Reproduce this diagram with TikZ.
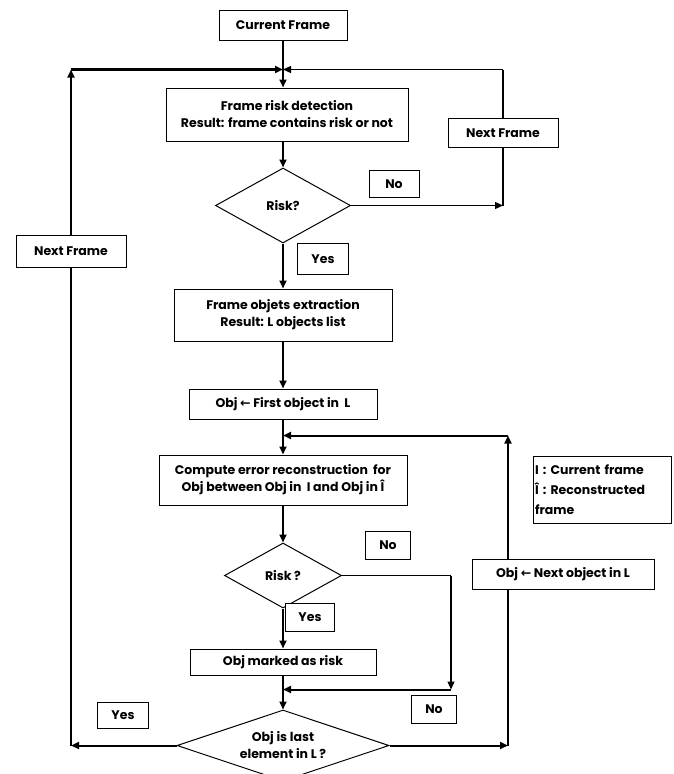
\documentclass[tikz,border=0pt]{standalone}
\usepackage{fontspec}
\setmainfont{Poppins}
\newfontfamily\arrowfont{DejaVu Sans}
\newcommand{\getarrow}{{\arrowfont ←}}
\usetikzlibrary{arrows.meta, positioning, shapes.geometric, backgrounds}

\begin{document}
\begin{tikzpicture}[x=1pt, y=-1pt,
    node distance=30pt,
    box/.style={draw, fill=white, line width=1pt, align=center, inner sep=2pt,
                font=\fontsize{12.5}{17}\selectfont\bfseries},
    dec/.style={box, diamond, inner sep=0pt},
    lbl/.style={box, minimum height=28pt},
    arr/.style={-{Triangle[length=8pt, width=7pt]}, line width=2pt},
    tarr/.style={-{Triangle[length=8pt, width=7pt]}, line width=1.2pt},
    wire/.style={line width=1.2pt}]
  \useasboundingbox (0,0) rectangle (674,774);
  % main column
  \node[box, minimum width=128pt, minimum height=30pt] (cur) at (283,25) {Current Frame};
  \node[box, minimum width=242pt, minimum height=53pt, below=47pt of cur, xshift=4pt] (frd)
       {Frame risk detection\\Result: frame contains risk or not};
  \node[dec, minimum width=135pt, minimum height=75pt, aspect=1.8, below=26pt of cur |- frd.south] (risk) {Risk?};
  \node[box, minimum width=218pt, minimum height=52pt, below=45pt of risk] (foe)
       {Frame objets extraction\\Result: L objects list};
  \node[box, minimum width=188pt, minimum height=30pt, below=47pt of foe] (first)
       {Obj \getarrow\ First object in\ \ L};
  \node[box, minimum width=248pt, minimum height=50pt, below=35pt of first] (comp)
       {Compute error reconstruction\ \ for\\Obj between Obj in\ \ I and Obj in Î};
  \node[dec, minimum width=117pt, minimum height=65pt, aspect=1.8, below=37pt of comp] (riskobj) {Risk ?};
  \node[box, minimum width=186pt, minimum height=26pt, below=40pt of riskobj] (mark) {Obj marked as risk};
  \node[dec, minimum width=212pt, minimum height=71pt, aspect=3, below=34pt of mark] (last)
       {Obj is last\\element in L ?};
  % side boxes
  \node[box, minimum width=110pt, minimum height=29pt] (nfr) at (503,133) {Next Frame};
  \node[box, minimum width=110pt, minimum height=32pt] (nfl) at (71,251) {Next Frame};
  \node[box, minimum width=182pt, minimum height=30pt] (next) at (563,574) {Obj \getarrow\ Next object in L};
  \node[box, align=left, text width=134pt, minimum height=67pt,
        font=\fontsize{12.5}{20}\selectfont\bfseries] (legend) at (602,490)
       {I : Current frame\\Î : Reconstructed\\frame};
  % yes / no
  \node[lbl, minimum width=50pt, minimum height=27pt] (no1) at (394,184) {No};
  \node[lbl, minimum width=51pt, minimum height=31pt] (yes1) at (323,259) {Yes};
  \node[lbl, minimum width=45pt] (no2) at (388,545) {No};
  \node[lbl, minimum width=49pt] (yes2) at (310,617) {Yes};
  \node[lbl, minimum width=51pt, minimum height=26pt] (yes3) at (123,715) {Yes};
  \node[lbl, minimum width=45pt] (no3) at (434,709) {No};
  % junctions
  \coordinate (jtop) at ([yshift=-29pt]cur.south);
  \coordinate (jmid) at ([yshift=-16pt]first.south);
  \coordinate (jlow) at ([yshift=-14pt]mark.south);
  \coordinate (xr) at (451,0);
  \coordinate (xo) at (508,0);
  \begin{scope}[on background layer]
    \draw[arr] (cur) -- (cur |- frd.north);
    \draw[arr] (cur |- frd.south) -- (risk);
    \draw[arr] (risk) -- (foe);
    \draw[arr] (foe) -- (first);
    \draw[arr] (first) -- (comp);
    \draw[arr] (comp) -- (riskobj);
    \draw[arr] (riskobj) -- (mark);
    \draw[arr] (mark) -- (last);
    % frame loop, no risk
    \draw[tarr] (risk.east) -- (risk.east -| nfr);
    \draw[wire] (risk.east -| nfr) -- (jtop -| nfr);
    \draw[tarr] (jtop -| nfr) -- (jtop);
    % frame loop, last object
    \draw[arr] (last.west) -- (last.west -| nfl);
    \draw[arr, line width=2.5pt] (last.west -| nfl) -- (jtop -| nfl);
    \draw[arr, line width=2.5pt] (jtop -| nfl) -- (jtop);
    % object not at risk
    \draw[wire] (riskobj.east) -- (riskobj.east -| xr);
    \draw[tarr] (riskobj.east -| xr) -- (jlow -| xr);
    \draw[arr] (jlow -| xr) -- (jlow);
    % object loop
    \draw[arr] (last.east) -- (last.east -| xo);
    \draw[arr] (last.east -| xo) -- (jmid -| xo);
    \draw[arr] (jmid -| xo) -- (jmid);
  \end{scope}
\end{tikzpicture}
\end{document}
